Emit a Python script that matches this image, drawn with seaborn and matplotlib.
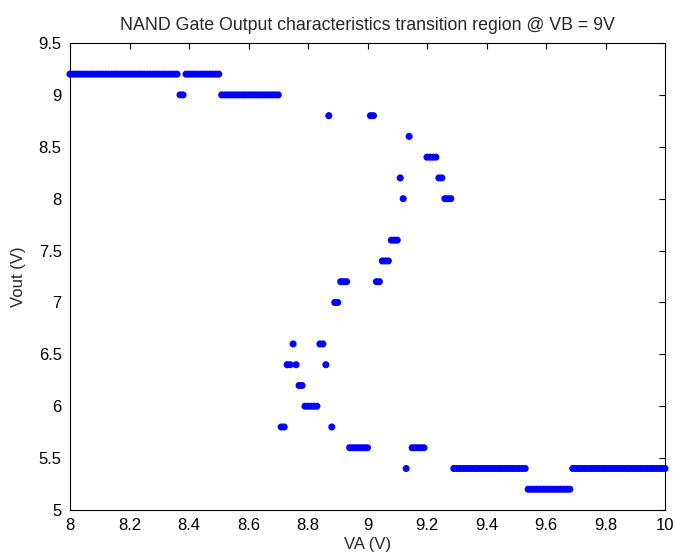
import numpy as np
import pandas as pd
import matplotlib
matplotlib.use("Agg")
import matplotlib.pyplot as plt
import seaborn as sns

# Input voltage samples (V), one row per 0.1 V
va = [
    8.00, 8.01, 8.02, 8.03, 8.04, 8.05, 8.06, 8.07, 8.08, 8.09,
    8.10, 8.11, 8.12, 8.13, 8.14, 8.15, 8.16, 8.17, 8.18, 8.19,
    8.20, 8.21, 8.22, 8.23, 8.24, 8.25, 8.26, 8.27, 8.28, 8.29,
    8.30, 8.31, 8.32, 8.33, 8.34, 8.35, 8.36, 8.37, 8.38, 8.39,
    8.40, 8.41, 8.42, 8.43, 8.44, 8.45, 8.46, 8.47, 8.48, 8.49,
    8.50, 8.51, 8.52, 8.53, 8.54, 8.55, 8.56, 8.57, 8.58, 8.59,
    8.60, 8.61, 8.62, 8.63, 8.64, 8.65, 8.66, 8.67, 8.68, 8.69,
    8.70, 8.71, 8.72, 8.73, 8.74, 8.75, 8.76, 8.77, 8.78, 8.79,
    8.80, 8.81, 8.82, 8.83, 8.84, 8.85, 8.86, 8.87, 8.88, 8.89,
    8.90, 8.91, 8.92, 8.93, 8.94, 8.95, 8.96, 8.97, 8.98, 8.99,
    9.00, 9.01, 9.02, 9.03, 9.04, 9.05, 9.06, 9.07, 9.08, 9.09,
    9.10, 9.11, 9.12, 9.13, 9.14, 9.15, 9.16, 9.17, 9.18, 9.19,
    9.20, 9.21, 9.22, 9.23, 9.24, 9.25, 9.26, 9.27, 9.28, 9.29,
    9.30, 9.31, 9.32, 9.33, 9.34, 9.35, 9.36, 9.37, 9.38, 9.39,
    9.40, 9.41, 9.42, 9.43, 9.44, 9.45, 9.46, 9.47, 9.48, 9.49,
    9.50, 9.51, 9.52, 9.53, 9.54, 9.55, 9.56, 9.57, 9.58, 9.59,
    9.60, 9.61, 9.62, 9.63, 9.64, 9.65, 9.66, 9.67, 9.68, 9.69,
    9.70, 9.71, 9.72, 9.73, 9.74, 9.75, 9.76, 9.77, 9.78, 9.79,
    9.80, 9.81, 9.82, 9.83, 9.84, 9.85, 9.86, 9.87, 9.88, 9.89,
    9.90, 9.91, 9.92, 9.93, 9.94, 9.95, 9.96, 9.97, 9.98, 9.99,
    10.00,
]

# Output voltage (V)
vout = [
    9.2, 9.2, 9.2, 9.2, 9.2, 9.2, 9.2, 9.2, 9.2, 9.2,
    9.2, 9.2, 9.2, 9.2, 9.2, 9.2, 9.2, 9.2, 9.2, 9.2,
    9.2, 9.2, 9.2, 9.2, 9.2, 9.2, 9.2, 9.2, 9.2, 9.2,
    9.2, 9.2, 9.2, 9.2, 9.2, 9.2, 9.2, 9.0, 9.0, 9.2,
    9.2, 9.2, 9.2, 9.2, 9.2, 9.2, 9.2, 9.2, 9.2, 9.2,
    9.2, 9.0, 9.0, 9.0, 9.0, 9.0, 9.0, 9.0, 9.0, 9.0,
    9.0, 9.0, 9.0, 9.0, 9.0, 9.0, 9.0, 9.0, 9.0, 9.0,
    9.0, 5.8, 5.8, 6.4, 6.4, 6.6, 6.4, 6.2, 6.2, 6.0,
    6.0, 6.0, 6.0, 6.0, 6.6, 6.6, 6.4, 8.8, 5.8, 7.0,
    7.0, 7.2, 7.2, 7.2, 5.6, 5.6, 5.6, 5.6, 5.6, 5.6,
    5.6, 8.8, 8.8, 7.2, 7.2, 7.4, 7.4, 7.4, 7.6, 7.6,
    7.6, 8.2, 8.0, 5.4, 8.6, 5.6, 5.6, 5.6, 5.6, 5.6,
    8.4, 8.4, 8.4, 8.4, 8.2, 8.2, 8.0, 8.0, 8.0, 5.4,
    5.4, 5.4, 5.4, 5.4, 5.4, 5.4, 5.4, 5.4, 5.4, 5.4,
    5.4, 5.4, 5.4, 5.4, 5.4, 5.4, 5.4, 5.4, 5.4, 5.4,
    5.4, 5.4, 5.4, 5.4, 5.2, 5.2, 5.2, 5.2, 5.2, 5.2,
    5.2, 5.2, 5.2, 5.2, 5.2, 5.2, 5.2, 5.2, 5.2, 5.4,
    5.4, 5.4, 5.4, 5.4, 5.4, 5.4, 5.4, 5.4, 5.4, 5.4,
    5.4, 5.4, 5.4, 5.4, 5.4, 5.4, 5.4, 5.4, 5.4, 5.4,
    5.4, 5.4, 5.4, 5.4, 5.4, 5.4, 5.4, 5.4, 5.4, 5.4,
    5.4,
]

x_ticks = [8, 8.2, 8.4, 8.6, 8.8, 9, 9.2, 9.4, 9.6, 9.8, 10]
x_tick_labels = ["8", "8.2", "8.4", "8.6", "8.8", "9", "9.2", "9.4", "9.6", "9.8", "10"]
y_ticks = [5, 5.5, 6, 6.5, 7, 7.5, 8, 8.5, 9, 9.5]
y_tick_labels = ["5", "5.5", "6", "6.5", "7", "7.5", "8", "8.5", "9", "9.5"]

df = pd.DataFrame({"VA": va, "Vout": vout})

sns.set_style("white")
plt.rcParams["font.family"] = ["Liberation Sans", "DejaVu Sans"]
plt.rcParams["xtick.direction"] = "in"
plt.rcParams["ytick.direction"] = "in"

fig = plt.figure(figsize=(6.75, 5.58), dpi=100)
ax = fig.add_axes([70 / 675, 1 - 510 / 558, 595 / 675, 467 / 558])

sns.scatterplot(data=df, x="VA", y="Vout", ax=ax, color="#0000ff",
                s=26, edgecolor="none", linewidth=0, legend=False,
                clip_on=False, zorder=3)

ax.set_xlim(8, 10)
ax.set_ylim(5, 9.5)
ax.set_xticks(x_ticks)
ax.set_xticklabels(x_tick_labels)
ax.set_yticks(y_ticks)
ax.set_yticklabels(y_tick_labels)
ax.tick_params(axis="both", which="both", direction="in", length=4, width=0.8,
               labelsize=12, top=True, right=True, colors="black", pad=6)
for sp in ax.spines.values():
    sp.set_visible(True)
    sp.set_color("black")
    sp.set_linewidth(0.8)

ax.set_xlabel("VA (V)", fontsize=12, labelpad=3)
ax.set_ylabel("Vout (V)", fontsize=12, labelpad=9)
ax.set_title("NAND Gate Output characteristics transition region @ VB = 9V",
             fontsize=12.8, pad=9)

fig.savefig("out.png", dpi=100, facecolor="white")
